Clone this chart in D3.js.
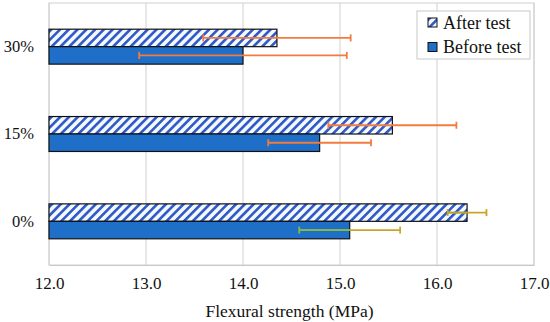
<!DOCTYPE html>
<html><head><meta charset="utf-8">
<script src="https://cdn.jsdelivr.net/npm/d3@7"></script>
<style>body{margin:0;background:#fff}svg{display:block}svg text{font-family:"Liberation Serif","Times New Roman",serif}</style>
</head><body>
<svg id="c" width="550" height="322"></svg>
<script>
const categories = ["30%", "15%", "0%"];
const seriesNames = ["After test", "Before test"];
const afterValues = [14.35, 15.54, 16.31];
const beforeValues = [14.00, 14.79, 15.10];
const afterErrors = [0.76, 0.66, 0.20];
const beforeErrors = [1.07, 0.53, 0.52];
const xTicks = [12, 13, 14, 15, 16, 17];

const svg = d3.select("#c");
const L = 49, R = 534, T = 3, B = 265;
const font = "Liberation Serif";

const x = d3.scaleLinear().domain([12, 17]).range([L, R]);
const y0 = d3.scaleBand().domain(categories).range([T, B]).paddingInner(0.6).paddingOuter(0.3);
const y1 = d3.scaleBand().domain(seriesNames).range([0, y0.bandwidth()]);

const defs = svg.append("defs");
const P = 6.2;
const pat = defs.append("pattern").attr("id", "hatch").attr("patternUnits", "userSpaceOnUse")
  .attr("width", P).attr("height", P).attr("patternTransform", "rotate(45)");
pat.append("rect").attr("width", P).attr("height", P).attr("fill", "#f2faff");
pat.append("rect").attr("x", 0).attr("width", 2.6).attr("height", P).attr("fill", "#3158c6");

// gridlines
svg.append("g").selectAll("line").data(xTicks).join("line")
  .attr("x1", d => x(d)).attr("x2", d => x(d)).attr("y1", T).attr("y2", B)
  .attr("stroke", "#d0d0d0").attr("stroke-width", 1);
svg.append("rect").attr("x", L).attr("y", T).attr("width", R - L).attr("height", B - T)
  .attr("fill", "none").attr("stroke", "#d0d0d0");

const xAxis = svg.append("g").attr("transform", `translate(0,${B})`)
  .call(d3.axisBottom(x).tickValues(xTicks).tickFormat(d3.format(".1f")).tickSize(0).tickPadding(12));
xAxis.attr("font-family", font);
xAxis.select(".domain").attr("stroke", "#c8c8c8");
xAxis.selectAll("text").attr("font-family", font).attr("font-size", 17).attr("fill", "#111");

const yAxis = svg.append("g").attr("transform", `translate(${L},0)`)
  .call(d3.axisLeft(y0).tickSize(0).tickPadding(15));
yAxis.attr("font-family", font);
yAxis.select(".domain").remove();
yAxis.selectAll("text").attr("font-family", font).attr("font-size", 16.5).attr("fill", "#111");

svg.append("text").attr("x", (L + R) / 2 - 2).attr("y", 317).attr("text-anchor", "middle")
  .attr("font-family", font).attr("font-size", 17.5).attr("fill", "#111").text("Flexural strength (MPa)");

const rows = [];
categories.forEach((c, i) => {
  rows.push({cat: c, s: "After test", v: afterValues[i], e: afterErrors[i]});
  rows.push({cat: c, s: "Before test", v: beforeValues[i], e: beforeErrors[i]});
});

svg.append("g").selectAll("rect").data(rows).join("rect")
  .attr("x", x(12)).attr("y", d => y0(d.cat) + y1(d.s))
  .attr("width", d => x(d.v) - x(12)).attr("height", y1.bandwidth())
  .attr("fill", d => d.s === "After test" ? "url(#hatch)" : "#1f6fc8")
  .attr("stroke", "#111").attr("stroke-width", 1.2);

const errColor = d => d.cat === "0%" ? "#c9a62a" : "#f27b3e";
const eg = svg.append("g").selectAll("g").data(rows).join("g")
  .attr("transform", d => `translate(0,${y0(d.cat) + y1(d.s) + y1.bandwidth() / 2})`);
eg.append("line").attr("x1", d => x(d.v - d.e)).attr("x2", d => x(d.v + d.e))
  .attr("stroke", errColor).attr("stroke-width", 1.8);
eg.filter(d => d.cat === "0%").append("line")
  .attr("x1", d => x(d.v - d.e)).attr("x2", d => x(d.v))
  .attr("stroke", d => d.s === "Before test" ? "#7fbf45" : "#b4a634").attr("stroke-width", 1.8);
eg.selectAll(".cap").data(d => [d, d].map((r, k) => ({r, v: k ? r.v + r.e : r.v - r.e}))).join("line")
  .attr("x1", d => x(d.v)).attr("x2", d => x(d.v)).attr("y1", -3.5).attr("y2", 3.5)
  .attr("stroke", d => (d.r.cat === "0%" && d.v < d.r.v && d.r.s === "Before test") ? "#7fbf45" : errColor(d.r))
  .attr("stroke-width", 1.8);

// legend
const lg = svg.append("g").attr("transform", "translate(417,11)");
lg.append("rect").attr("width", 113).attr("height", 48).attr("fill", "#fff").attr("stroke", "#c8c8c8");
seriesNames.forEach((s, i) => {
  const g = lg.append("g").attr("transform", `translate(11,${7 + i * 24.5})`);
  g.append("rect").attr("width", 9).attr("height", 9)
    .attr("fill", i === 0 ? "url(#hatch)" : "#1f6fc8").attr("stroke", "#111").attr("stroke-width", 1);
  g.append("text").attr("x", 15).attr("y", 10.5).attr("font-family", font).attr("font-size", 18)
    .attr("fill", "#111").text(s);
});
</script>
</body></html>
